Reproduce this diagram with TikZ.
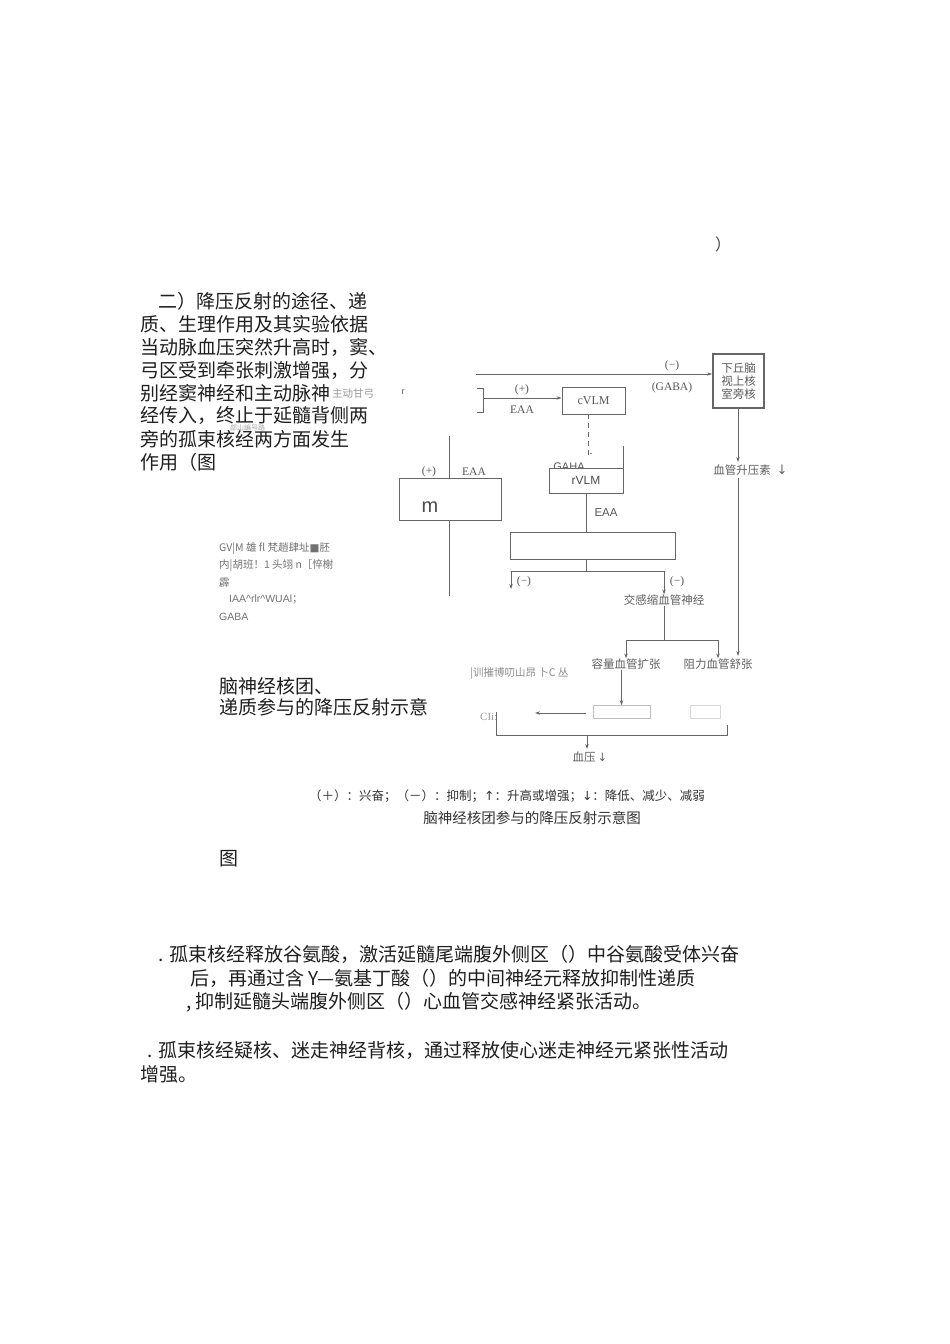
\documentclass[tikz,border=0pt]{standalone}
\usepackage{fontspec}
\setmainfont{Noto Sans CJK SC}
\newfontfamily\lat{Liberation Sans}
\newfontfamily\ser{Liberation Serif}
\newfontfamily\dvs{DejaVu Sans}
\usetikzlibrary{arrows.meta}
\tikzset{
  body/.style={anchor=west, inner sep=0, font=\fontsize{19}{23}\selectfont, text=black!88},
  lbl/.style={inner sep=0, font=\ser\fontsize{11.5}{12}\selectfont, text=black!65},
  lbls/.style={inner sep=0, font=\lat\fontsize{11.5}{12}\selectfont, text=black!65},
  cjks/.style={inner sep=0, font=\fontsize{11.5}{12}\selectfont, text=black!62},
  faint/.style={inner sep=0, anchor=west, font=\fontsize{10.5}{11}\selectfont, text=black!55},
  boxx/.style={draw=black!60, line width=0.9pt, inner sep=0, fill=white},
  ln/.style={draw=black!60, line width=0.8pt},
  arr/.style={ln, -{Stealth[length=5pt,width=3.4pt]}},
}
\begin{document}
\begin{tikzpicture}[x=1pt,y=-1pt]
\useasboundingbox[fill=white] (0,0) rectangle (950,1344);

% stray parenthesis
\node[inner sep=0, font=\fontsize{16}{16}\selectfont, text=black!75] (par) at (723,244) {）};

% left text block
\node[body] (t1) at (158,301) {二）降压反射的途径、递};
\node[body] (t2) at (140,324) {质、生理作用及其实验依据};
\node[body] (t3) at (140,347) {当动脉血压突然升高时，窦、};
\node[body] (t4) at (140,370) {弓区受到牵张刺激增强，分};
\node[body] (t5) at (140,393) {别经窦神经和主动脉神};
\node[body] (t6) at (140,416) {经传入，终止于延髓背侧两};
\node[body] (t7) at (140,439) {旁的孤束核经两方面发生};
\node[body] (t8) at (140,462) {作用（图};
\node[faint, text=black!40] (o1) at (332,394) {主动甘弓};
\node[faint, text=black!35, font=\fontsize{7}{7}\selectfont] (o2) at (230,428) {部山编号路};
\node[lbls, font=\lat\fontsize{9}{9}\selectfont] (rr) at (403,392) {r};

% diagram: top line to hypothalamus
\node[boxx, line width=1.8pt, minimum width=51pt, minimum height=54pt, align=center,
      font=\fontsize{11.5}{13}\selectfont, text=black!65] (hyp) at (738.5,381) {下丘脑\\视上核\\室旁核};
\coordinate (tl) at (476,374);
\draw[arr] (tl) -- (tl -| hyp.west);
\node[lbl] (m1) at (672,366) {(−)};
\node[lbl] (gaba) at (672,388) {(GABA)};

% bracket and cVLM
\node[boxx, minimum width=63pt, minimum height=27pt, font=\ser\fontsize{12}{12}\selectfont, text=black!65] (cvlm) at (593.5,400.5) {cVLM};
\coordinate (bt) at (477,388);
\coordinate (bb) at (477,412);
\coordinate (br) at (483,398);
\draw[ln] (bt) -- ++(6,0) |- (bb);
\draw[arr] (br) -- (br -| cvlm.west);
\node[lbl] (p1) at (522,390) {(+)};
\node[lbl] (e1) at (522,410) {EAA};

% dashed link cVLM -> rVLM
\coordinate (dsh) at (588,455);
\draw[ln, dash pattern=on 5pt off 4pt] (dsh |- cvlm.south) -- (dsh);
\node[lbls, font=\lat\fontsize{9}{9}\selectfont] (dash2) at (591,455) {-};

% rVLM
\node[lbls, font=\lat\fontsize{11}{11}\selectfont] (gaha) at (569,467) {GAHA};
\node[boxx, minimum width=74pt, minimum height=25pt, font=\lat\fontsize{12}{12}\selectfont, text=black!70] (rvlm) at (586,480.5) {rVLM};
\draw[ln] (rvlm.north east) -- ++(0,-22);
\node[boxx, minimum width=165pt, minimum height=27pt] (big) at (592.5,545.5) {};
\draw[ln] (rvlm.south) -- (rvlm.south |- big.north);
\node[lbls] (e2) at (606,513) {EAA};

% split below big box
\coordinate (sp) at (586,571);
\coordinate (la) at (511,589);
\node[cjks] (sym) at (664,600) {交感缩血管神经};
\draw[ln] (rvlm.south |- big.south) -- (sp);
\draw[ln] (la |- sp) -- (sp -| sym);
\draw[arr] (la |- sp) -- (la);
\draw[arr] (sp -| sym) -- (sym.north);
\node[lbl] (m2) at (524,582) {(−)};
\node[lbl] (m3) at (677,582) {(−)};

% left column with box m
\node[boxx, minimum width=102pt, minimum height=42pt] (mb) at (450,499) {};
\node[inner sep=0, font=\lat\fontsize{20}{20}\selectfont, text=black!70] (mlab) at (430,507) {m};
\coordinate (lt) at (449,436);
\coordinate (lb) at (449,596);
\draw[ln] (lt) -- (lt |- mb.north);
\draw[ln] (lt |- mb.south) -- (lb);
\node[lbl] (p2) at (429,472) {(+)};
\node[lbl] (e3) at (474,472) {EAA};

% right column
\node[cjks] (avp) at (742,470) {血管升压素};
\node[inner sep=0, font=\dvs\fontsize{13}{13}\selectfont, text=black!60] (avpa) at (782,470) {↓};
\coordinate (rc) at (738,462);
\coordinate (rc2) at (738,478);
\coordinate (rc3) at (738,656);
\draw[arr] (rc |- hyp.south) -- (rc);
\node[cjks] (cap) at (626,664) {容量血管扩张};
\node[cjks] (res) at (718,664) {阻力血管舒张};
\draw[arr] (rc2) -- (rc3);
\coordinate (sp2) at (664,640);
\draw[ln] (sym.south) -- (sp2);
\draw[ln] (sp2 -| cap) -- (sp2 -| res);
\draw[arr] (sp2 -| cap) -- (cap.north);
\draw[arr] (sp2 -| res) -- (res.north);

% lower part
\node[draw=black!25, line width=0.6pt, minimum width=57pt, minimum height=13pt, inner sep=0] (fb1) at (621.5,712) {};
\node[draw=black!15, line width=0.6pt, minimum width=30pt, minimum height=13pt, inner sep=0] (fb2) at (705,712) {};
\draw[arr] (cap.south -| fb1) -- (fb1.north);
\coordinate (lft) at (535,713);
\coordinate (lfs) at (586,713);
\draw[arr] (lfs) -- (lft);
\node[faint, text=black!40, font=\ser\fontsize{11}{11}\selectfont] (cu) at (480,717) {CIi:};
\coordinate (bl) at (496,712);
\coordinate (bc) at (496,735);
\coordinate (brr) at (727,725);
\node[cjks] (bp) at (590,757) {血压\,{\dvs ↓}};
\coordinate (bpa) at (587,749);
\draw[ln] (bl) -- (bc) -- (bc -| brr) -- (brr);
\draw[arr] (bpa |- bc) -- (bpa);

% garbled fragments
\node[faint] (g1) at (219,549) {GV|M 雄 fl 梵趙肆址{\dvs ■}胚};
\node[faint] (g2) at (219,566) {内|胡班！1 头翊 n［悴榭};
\node[faint] (g3) at (219,583) {霹};
\node[faint, font=\lat\fontsize{10.5}{11}\selectfont] (g4) at (229,600) {IAA\^{}rlr\^{}WUAl{\rmfamily；}};
\node[faint, font=\lat\fontsize{10.5}{11}\selectfont] (g5) at (219,617) {GABA};
\node[faint, text=black!45] (g6) at (470,674) {|训摧博叨山昂 卜C 丛};

\node[body] (c1) at (219,686) {脑神经核团、};
\node[body] (c2) at (219,707) {递质参与的降压反射示意};

% legend and caption
\node[inner sep=0, font=\fontsize{12.5}{13}\selectfont, text=black!80] (leg) at (507,796) {（＋）：兴奋；（－）：抑制；{\dvs ↑}：升高或增强；{\dvs ↓}：降低、减少、减弱};
\node[inner sep=0, font=\fontsize{14.5}{15}\selectfont, text=black!80] (cap2) at (532,818) {脑神经核团参与的降压反射示意图};

\node[body] (fig) at (219,859) {图};

% bottom paragraph
\node[body] (b1) at (158,954) {. 孤束核经释放谷氨酸，激活延髓尾端腹外侧区（）中谷氨酸受体兴奋};
\node[body] (b2) at (190,978) {后，再通过含 Y—氨基丁酸（）的中间神经元释放抑制性递质};
\node[body] (b3) at (186,1002) {, 抑制延髓头端腹外侧区（）心血管交感神经紧张活动。};
\node[body] (b4) at (147,1050) {. 孤束核经疑核、迷走神经背核，通过释放使心迷走神经元紧张性活动};
\node[body] (b5) at (140,1074) {增强。};
\end{tikzpicture}
\end{document}
